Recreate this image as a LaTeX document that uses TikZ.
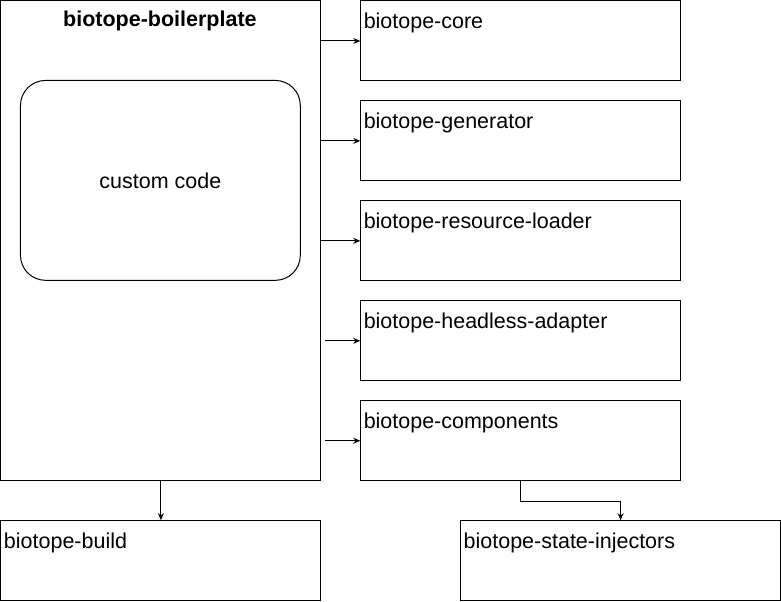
\documentclass[tikz,border=0pt]{standalone}
\usepackage{fontspec}
\setmainfont{Liberation Sans}
\usetikzlibrary{arrows.meta}
\tikzstyle{host} = [draw, rectangle, anchor=north west, minimum width=320pt, minimum height=480pt, inner sep=0pt]
\tikzstyle{custom} = [draw, rectangle, rounded corners=25pt, minimum width=280pt, minimum height=200pt, font=\fontsize{21.5}{26}\selectfont]
\tikzstyle{module} = [draw, rectangle, anchor=north west, minimum width=320pt, minimum height=80pt, inner sep=0pt, text width=314pt, align=left, text height=28pt, text depth=52pt, font=\fontsize{21.5}{26}\selectfont]
\tikzstyle{link} = [-{Stealth[length=7pt,width=6pt]}]

\begin{document}
\begin{tikzpicture}[x=1pt, y=-1pt, line width=1pt]
    \useasboundingbox (0,0) rectangle (781.5,601.5);
    \node[host] (bp) at (0.5,0.5) {};
    \node[anchor=base, font=\bfseries\fontsize{21.5}{26}\selectfont] (title) at (160,27) {biotope-boilerplate};
    \node[custom] (cc) at (160.5,180.5) {custom code};
    \node[module] (core) at (360.5,0.5) {biotope-core};
    \node[module] (gen) at (360.5,100.5) {biotope-generator};
    \node[module] (res) at (360.5,200.5) {biotope-resource-loader};
    \node[module] (head) at (360.5,300.5) {biotope-headless-adapter};
    \node[module] (comp) at (360.5,400.5) {biotope-components};
    \node[module] (build) at (0.5,520.5) {biotope-build};
    \node[module] (inj) at (460.5,520.5) {biotope-state-injectors};
    \draw[link] (core.west -| bp.east) -- (core.west);
    \draw[link] (gen.west -| bp.east) -- (gen.west);
    \draw[link] (res.west -| bp.east) -- (res.west);
    \draw[link] ([xshift=4pt]head.west -| bp.east) -- (head.west);
    \draw[link] ([xshift=4pt]comp.west -| bp.east) -- (comp.west);
    \draw[link] (bp.south) -- (build.north);
    \draw[link] (comp.south) -- ++(0,20) -| (inj.north);
\end{tikzpicture}
\end{document}
